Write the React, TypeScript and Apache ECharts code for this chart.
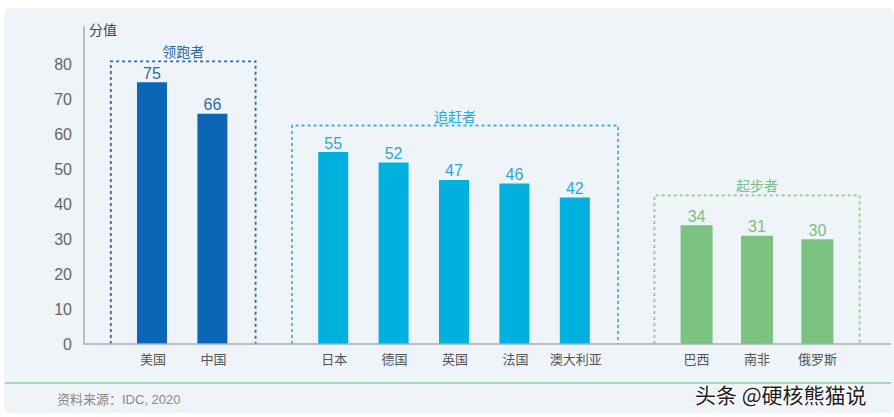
import React, { useEffect, useRef } from "react";
import * as echarts from "echarts";

const categories = ["美国", "中国", "", "日本", "德国", "英国", "法国", "澳大利亚", "", "巴西", "南非", "俄罗斯"];
const leaderValues = [75, 66];
const chaserValues = [55, 52, 47, 46, 42];
const starterValues = [34, 31, 30];
const groupNames = ["领跑者", "追赶者", "起步者"];
const groupStart = [0, 3, 9];
const groupTops = [81, 62.6, 42.6];
const yTicks = [0, 10, 20, 30, 40, 50, 60, 70, 80];
const sourceText = "资料来源：IDC, 2020";
const watermark = "头条 @硬核熊猫说";

const barColors = ["#0b67b6", "#00b1de", "#7cc383"];
const labelColors = ["#2d6aa8", "#29a9d6", "#7cbf80"];
const boxColors = ["#2a68b0", "#45b3dc", "#8fca8f"];
const FONT = '"Liberation Sans", "Noto Sans CJK SC", sans-serif';

function fill(values: number[], start: number) {
  const arr: (number | null)[] = categories.map(() => null);
  values.forEach((v, i) => (arr[start + i] = v));
  return arr;
}

export default function App() {
  const ref = useRef<HTMLDivElement>(null);
  useEffect(() => {
    document.body.style.margin = "0";
    const chart = echarts.init(ref.current!, undefined, { renderer: "svg" });
    const groups = [leaderValues, chaserValues, starterValues];
    const top = 26.4;
    const bottom = 73;
    const boxData = groups.map((g, i) => [groupStart[i], groupStart[i] + g.length - 1, groupTops[i], i]);
    const barSeries = groups.map((g, i) => ({
      type: "bar",
      xAxisIndex: 1,
      yAxisIndex: 1,
      z: 3,
      data: fill(g, groupStart[i]),
      barWidth: i === 2 ? 32 : 30,
      barGap: "-100%",
      itemStyle: { color: barColors[i] },
      label: {
        show: true,
        position: "top",
        distance: 1,
        color: labelColors[i],
        fontSize: 16,
        fontFamily: FONT,
      },
    }));
    chart.setOption({
      animation: false,
      backgroundColor: "#ffffff",
      textStyle: { fontFamily: FONT },
      grid: [
        { left: 84, right: 4, top, bottom },
        { left: 122.8, width: 724.8, top, bottom },
      ],
      xAxis: [
        {
          gridIndex: 0,
          type: "value",
          min: 0,
          max: 1,
          z: 5,
          axisLine: { show: true, lineStyle: { color: "#a9adb2", width: 1.5 } },
          axisTick: { show: false },
          axisLabel: { show: false },
          splitLine: { show: false },
        },
        {
          gridIndex: 1,
          type: "category",
          data: categories,
          axisLine: { show: false },
          axisTick: { show: false },
          axisLabel: { interval: 0, color: "#555", fontSize: 13, margin: 9, fontFamily: FONT },
        },
      ],
      yAxis: [
        {
          gridIndex: 0,
          type: "value",
          min: 0,
          max: 91,
          interval: 10,
          axisLine: { show: true, lineStyle: { color: "#a9adb2", width: 1.5 } },
          axisTick: { show: false },
          splitLine: { show: false },
          axisLabel: {
            color: "#666",
            fontSize: 16,
            margin: 12,
            fontFamily: FONT,
            showMaxLabel: false,
            formatter: (v: number) => (yTicks.includes(v) ? String(v) : ""),
          },
        },
        {
          gridIndex: 1,
          type: "value",
          min: 0,
          max: 91,
          show: false,
        },
      ],
      graphic: [
        {
          type: "rect",
          z: -100,
          silent: true,
          shape: { x: 4, y: 8, width: 890, height: 405, r: 6 },
          style: { fill: "#eef4f8" },
        },
        {
          type: "line",
          silent: true,
          shape: { x1: 5, y1: 383, x2: 891, y2: 383 },
          style: { stroke: "#8fcc9f", lineWidth: 1.5 },
        },
        {
          type: "text",
          x: 89,
          y: 30,
          style: { text: "分值", fill: "#444", fontSize: 14, fontFamily: FONT, verticalAlign: "middle" },
        },
        {
          type: "text",
          x: 57,
          y: 399,
          style: { text: sourceText, fill: "#8a8a8a", fontSize: 13, fontFamily: FONT, verticalAlign: "middle" },
        },
        {
          type: "text",
          x: 695,
          y: 394,
          style: {
            text: watermark,
            fill: "#1e1e1e",
            fontSize: 21,
            fontFamily: '"Noto Sans CJK SC", sans-serif',
            verticalAlign: "middle",
            stroke: "#ffffff",
            lineWidth: 2,
          },
        },
      ],
      series: [
        ...barSeries,
        {
          type: "custom",
          xAxisIndex: 1,
          yAxisIndex: 1,
          clip: false,
          silent: true,
          z: 1,
          data: boxData,
          renderItem: (params: any, api: any) => {
            const s = api.value(0);
            const e = api.value(1);
            const t = api.value(2);
            const gi = api.value(3);
            const half = api.size([1, 0])[0] / 2;
            const pad = 12;
            const p0 = api.coord([s, t]);
            const p1 = api.coord([e, 0]);
            const x0 = p0[0] - half - pad;
            const x1 = p1[0] + half + pad;
            return {
              type: "group",
              children: [
                {
                  type: "polyline",
                  shape: { points: [[x0, p1[1]], [x0, p0[1]], [x1, p0[1]], [x1, p1[1]]] },
                  style: { fill: "none", stroke: boxColors[gi], lineWidth: 1.8, lineDash: [3, 3] },
                },
                {
                  type: "text",
                  x: (x0 + x1) / 2,
                  y: p0[1] - 10,
                  style: {
                    text: groupNames[gi],
                    fill: labelColors[gi],
                    fontSize: 14,
                    fontFamily: '"Noto Sans CJK SC", sans-serif',
                    align: "center",
                    verticalAlign: "middle",
                  },
                },
              ],
            };
          },
        },
      ],
    });
    return () => chart.dispose();
  }, []);
  return <div ref={ref} style={{ width: 894, height: 417 }} />;
}
